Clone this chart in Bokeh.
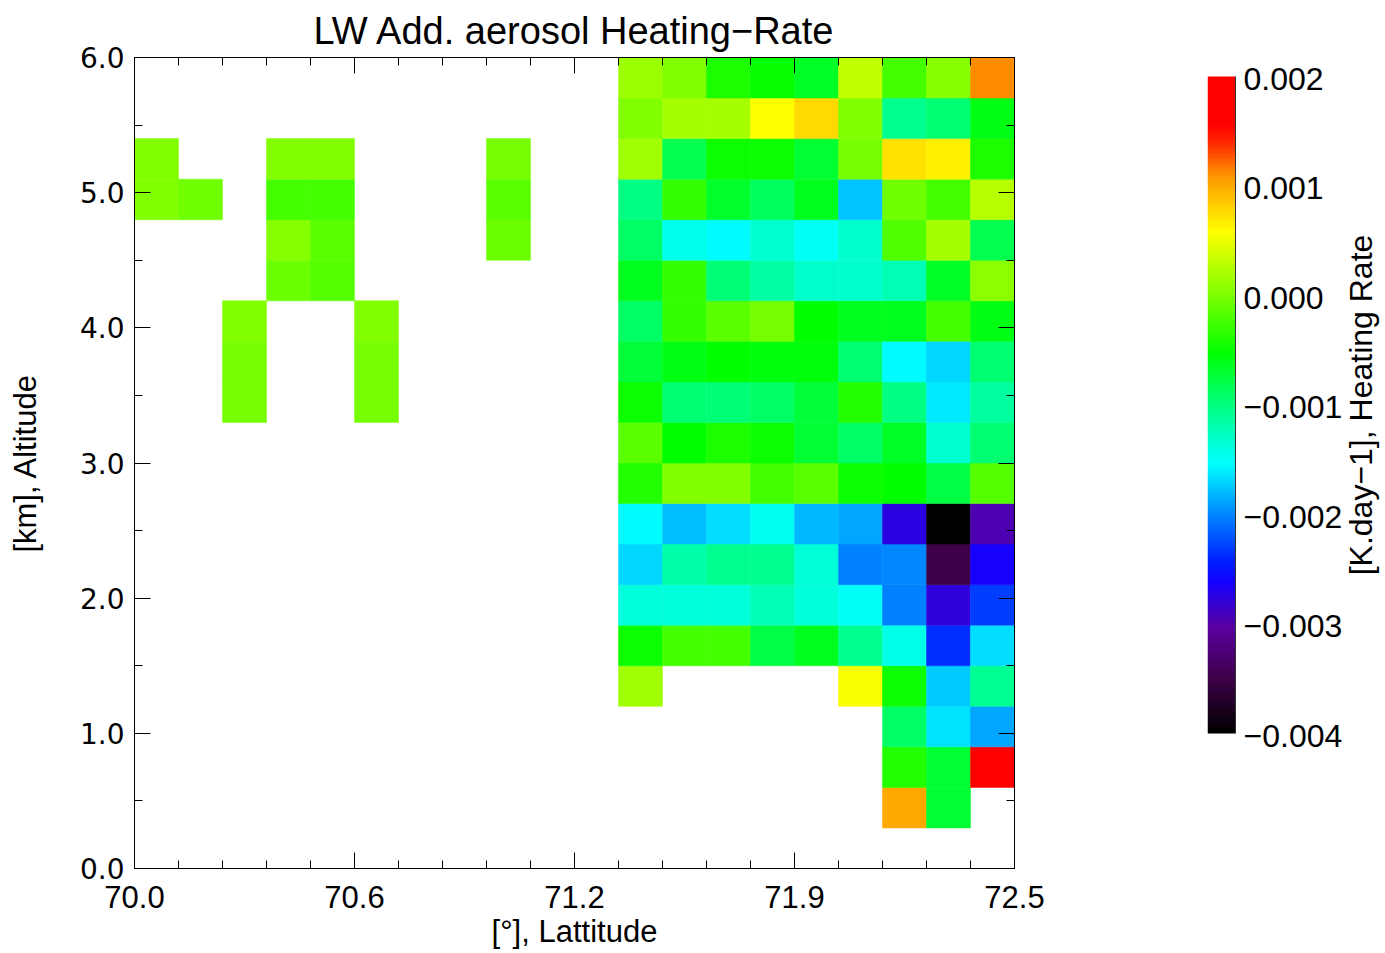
import numpy as np
from bokeh.plotting import figure
from bokeh.models import (ColumnDataSource, Range1d, LinearAxis, FixedTicker,
                          LinearColorMapper, CustomJSTickFormatter)
from bokeh.core.properties import value
from bokeh.layouts import row
from bokeh.transform import linear_cmap
from bokeh.embed import file_html
from bokeh.resources import INLINE

# Grid cell centres: latitude [deg] and altitude [km]
latitude = [70.0625, 70.1875, 70.3125, 70.4375, 70.5625, 70.6875, 70.8125, 70.9375,
            71.0625, 71.1875, 71.3125, 71.4375, 71.5625, 71.6875, 71.8125, 71.9375,
            72.0625, 72.1875, 72.3125, 72.4375]
altitude = [0.15, 0.45, 0.75, 1.05, 1.35, 1.65, 1.95, 2.25, 2.55, 2.85,
            3.15, 3.45, 3.75, 4.05, 4.35, 4.65, 4.95, 5.25, 5.55, 5.85]

N = None
# LW additional aerosol heating rate [K/day], one list per altitude level (west -> east)
level_0_15 = [N] * 20
level_0_45 = [N] * 17 + [0.00100, -0.00071, N]
level_0_75 = [N] * 17 + [-0.00039, -0.00071, 0.00190]
level_1_05 = [N] * 17 + [-0.00090, -0.00164, -0.00187]
level_1_35 = [N] * 11 + [0.00016, N, N, N, N, 0.00055, -0.00048, -0.00175, -0.00109]
level_1_65 = [N] * 11 + [-0.00048, -0.00023, -0.00023, -0.00078, -0.00063, -0.00105, -0.00143, -0.00236, -0.00166]
level_1_95 = [N] * 11 + [-0.00139, -0.00139, -0.00139, -0.00122, -0.00139, -0.00150, -0.00202, -0.00277, -0.00229]
level_2_25 = [N] * 11 + [-0.00170, -0.00118, -0.00105, -0.00105, -0.00137, -0.00202, -0.00200, -0.00349, -0.00262]
level_2_55 = [N] * 11 + [-0.00154, -0.00179, -0.00167, -0.00148, -0.00181, -0.00187, -0.00274, -0.00397, -0.00296]
level_2_85 = [N] * 11 + [-0.00039, 0.00003, 0.00003, -0.00023, -0.00014, -0.00048, -0.00052, -0.00078, -0.00016]
level_3_15 = [N] * 11 + [-0.00014, -0.00052, -0.00041, -0.00048, -0.00071, -0.00090, -0.00067, -0.00135, -0.00093]
level_3_45 = [N, N, -0.00002, N, N, -0.00002] + [N] * 5 + [-0.00048, -0.00093, -0.00097, -0.00090, -0.00074, -0.00039, -0.00101, -0.00162, -0.00114]
level_3_75 = [N, N, -0.00002, N, N, -0.00002] + [N] * 5 + [-0.00074, -0.00060, -0.00052, -0.00056, -0.00056, -0.00093, -0.00154, -0.00170, -0.00093]
level_4_05 = [N, N, 0.00003, N, N, 0.00003] + [N] * 5 + [-0.00090, -0.00031, -0.00014, -0.00002, -0.00052, -0.00063, -0.00063, -0.00023, -0.00060]
level_4_35 = [N, N, N, -0.00008, -0.00016] + [N] * 6 + [-0.00063, -0.00031, -0.00097, -0.00116, -0.00131, -0.00131, -0.00122, -0.00067, 0.00007]
level_4_65 = [N, N, N, 0.00005, -0.00014, N, N, N, -0.00008, N, N] + [-0.00090, -0.00146, -0.00154, -0.00135, -0.00150, -0.00131, -0.00018, 0.00019, -0.00082]
level_4_95 = [0.00001, -0.00006, N, -0.00024, -0.00024, N, N, N, -0.00014, N, N] + [-0.00101, -0.00031, -0.00069, -0.00086, -0.00063, -0.00177, -0.00006, -0.00023, 0.00025]
level_5_25 = [0.00001, N, N, 0.00001, 0.00001, N, N, N, -0.00002, N, N] + [0.00016, -0.00082, -0.00048, -0.00048, -0.00071, -0.00002, 0.00073, 0.00066, -0.00041]
level_5_55 = [N] * 11 + [0.00003, 0.00019, 0.00019, 0.00059, 0.00078, 0.00003, -0.00107, -0.00093, -0.00060]
level_5_85 = [N] * 11 + [0.00014, 0.00003, -0.00041, -0.00050, -0.00067, 0.00030, -0.00023, 0.00005, 0.00111]

levels = [level_0_15, level_0_45, level_0_75, level_1_05, level_1_35, level_1_65, level_1_95,
          level_2_25, level_2_55, level_2_85, level_3_15, level_3_45, level_3_75, level_4_05,
          level_4_35, level_4_65, level_4_95, level_5_25, level_5_55, level_5_85]

# Axis ticks and labels
lat_ticks = [70.0, 70.625, 71.25, 71.875, 72.5]
lat_tick_labels = ["70.0", "70.6", "71.2", "71.9", "72.5"]
lat_minor = [70.125, 70.25, 70.375, 70.5, 70.75, 70.875, 71.0, 71.125, 71.375, 71.5,
             71.625, 71.75, 72.0, 72.125, 72.25, 72.375]
alt_ticks = [0.0, 1.0, 2.0, 3.0, 4.0, 5.0, 6.0]
alt_tick_labels = ["0.0", "1.0", "2.0", "3.0", "4.0", "5.0", "6.0"]
alt_minor = [0.5, 1.5, 2.5, 3.5, 4.5, 5.5]
cbar_ticks = [-0.004, -0.003, -0.002, -0.001, 0.0, 0.001, 0.002]
cbar_tick_labels = ["\u22120.004", "\u22120.003", "\u22120.002", "\u22120.001", "0.000", "0.001", "0.002"]

HR_LOW, HR_HIGH = -0.004, 0.002

# Rainbow colour table (black -> purple -> blue -> cyan -> green -> yellow -> red)
stops = [(0.00, (0, 0, 0)), (0.08, (60, 0, 70)), (0.16, (90, 0, 160)), (0.23, (20, 0, 255)),
         (0.26, (0, 30, 255)), (0.33, (0, 130, 255)), (0.41, (0, 255, 255)), (0.50, (0, 255, 128)),
         (0.58, (0, 255, 0)), (0.67, (128, 255, 0)), (0.765, (255, 255, 0)), (0.85, (255, 150, 0)),
         (0.90, (255, 40, 0)), (0.93, (255, 0, 0)), (1.00, (255, 0, 0))]
pos = np.linspace(0, 1, 256)
sp = [s[0] for s in stops]
chans = [np.interp(pos, sp, [s[1][k] for s in stops]) for k in range(3)]
palette = ["#%02x%02x%02x" % (int(round(r)), int(round(g)), int(round(b)))
           for r, g, b in zip(*chans)]

xs, ys, vs = [], [], []
for alt, lvl in zip(altitude, levels):
    for lat, v in zip(latitude, lvl):
        if v is not None:
            xs.append(lat)
            ys.append(alt)
            vs.append(v)
src = ColumnDataSource(dict(lat=xs, alt=ys, hr=vs))

FONT = "Liberation Sans"
FRAME_H = 811
TOP, BOTTOM = 57, 85

p = figure(frame_width=880, frame_height=FRAME_H,
           x_range=Range1d(70.0, 72.5), y_range=Range1d(0.0, 6.0),
           min_border_left=134, min_border_right=106, min_border_top=TOP, min_border_bottom=BOTTOM,
           x_axis_location=None, y_axis_location=None,
           title="LW Add. aerosol Heating\u2212Rate",
           output_backend="svg", toolbar_location=None)
p.title.align = "center"
p.title.text_font = FONT
p.title.text_font_size = "38px"
p.title.text_font_style = "normal"
p.title.text_color = "black"
p.title.standoff = 12
p.outline_line_color = "black"
p.background_fill_color = "white"
p.grid.visible = False

cmap = linear_cmap("hr", palette, HR_LOW, HR_HIGH)
p.rect(x="lat", y="alt", width=0.125, height=0.3, source=src,
       fill_color=cmap, line_color=cmap, line_width=0.5)

xticker = FixedTicker(ticks=lat_ticks, minor_ticks=lat_minor)
yticker = FixedTicker(ticks=alt_ticks, minor_ticks=alt_minor)


def inward(ax):
    ax.major_tick_in = 16
    ax.major_tick_out = 0
    ax.minor_tick_in = 8
    ax.minor_tick_out = 0
    ax.axis_line_color = "black"
    ax.major_tick_line_color = "black"
    ax.minor_tick_line_color = "black"
    ax.major_label_text_color = "black"
    ax.axis_label_text_color = "black"


def tick_only(ax):
    # mirror axis: inward ticks, no labels
    inward(ax)
    ax.formatter = CustomJSTickFormatter(code="return ''")
    ax.major_label_text_font_size = "1px"
    ax.major_label_standoff = 0


bottom = LinearAxis(ticker=xticker,
                    major_label_overrides=dict(zip(lat_ticks, lat_tick_labels)),
                    axis_label="[\u00b0], Lattitude")
inward(bottom)
bottom.major_label_text_font = FONT
bottom.major_label_text_font_size = "31px"
bottom.major_label_standoff = 17
bottom.axis_label_text_font = FONT
bottom.axis_label_text_font_size = "31px"
bottom.axis_label_text_font_style = "normal"
bottom.axis_label_standoff = 3
p.add_layout(bottom, "below")

left = LinearAxis(ticker=yticker,
                  major_label_overrides=dict(zip(alt_ticks, alt_tick_labels)),
                  axis_label="[km], Altitude")
inward(left)
left.major_label_text_font = "DejaVu Sans"
left.major_label_text_font_size = "28px"
left.major_label_standoff = 10
left.axis_label_text_font = FONT
left.axis_label_text_font_size = "31px"
left.axis_label_text_font_style = "normal"
left.axis_label_standoff = 34
p.add_layout(left, "left")

top = LinearAxis(ticker=xticker)
tick_only(top)
p.add_layout(top, "above")

right = LinearAxis(ticker=yticker)
tick_only(right)
p.add_layout(right, "right")

# Colour bar panel: x in pixels, y scaled so the bar spans 76..733 px of the page
CB_W, CB_PANEL_W = 28, 178
BAR_TOP, BAR_BOTTOM = 76, 733
per_px = (HR_HIGH - HR_LOW) / (BAR_BOTTOM - BAR_TOP)
cb_y0 = HR_LOW - (TOP + FRAME_H - BAR_BOTTOM) * per_px
cb_y1 = HR_HIGH + (BAR_TOP - TOP) * per_px

cb = figure(frame_width=CB_PANEL_W, frame_height=FRAME_H,
            x_range=Range1d(0, CB_PANEL_W), y_range=Range1d(cb_y0, cb_y1),
            min_border_left=87, min_border_right=0, min_border_top=TOP, min_border_bottom=BOTTOM,
            x_axis_location=None, y_axis_location=None,
            output_backend="svg", toolbar_location=None)
cb.outline_line_color = None
cb.grid.visible = False
mapper = LinearColorMapper(palette=palette, low=HR_LOW, high=HR_HIGH)
grad = np.linspace(HR_LOW, HR_HIGH, 256).reshape(256, 1)
cb.image(image=[grad], x=0, y=HR_LOW, dw=CB_W, dh=HR_HIGH - HR_LOW, color_mapper=mapper)
cb.segment(x0=CB_W, y0=HR_LOW, x1=CB_W, y1=HR_HIGH, line_color="#333333", line_width=1)

cb.text(x=[CB_W + 8] * len(cbar_ticks), y=cbar_ticks, text=cbar_tick_labels,
        text_font=value(FONT), text_font_size="32px", text_color="black",
        text_align="left", text_baseline="middle", y_offset=2)
cb.text(x=[153], y=[(HR_LOW + HR_HIGH) / 2], text=["[K.day\u22121], Heating Rate"],
        angle=90, angle_units="deg", text_font=value(FONT), text_font_size="32px",
        text_color="black", text_align="center", text_baseline="middle")

layout = row(p, cb)
open("out.html", "w").write(file_html(layout, INLINE, title="LW Add. aerosol Heating-Rate"))
